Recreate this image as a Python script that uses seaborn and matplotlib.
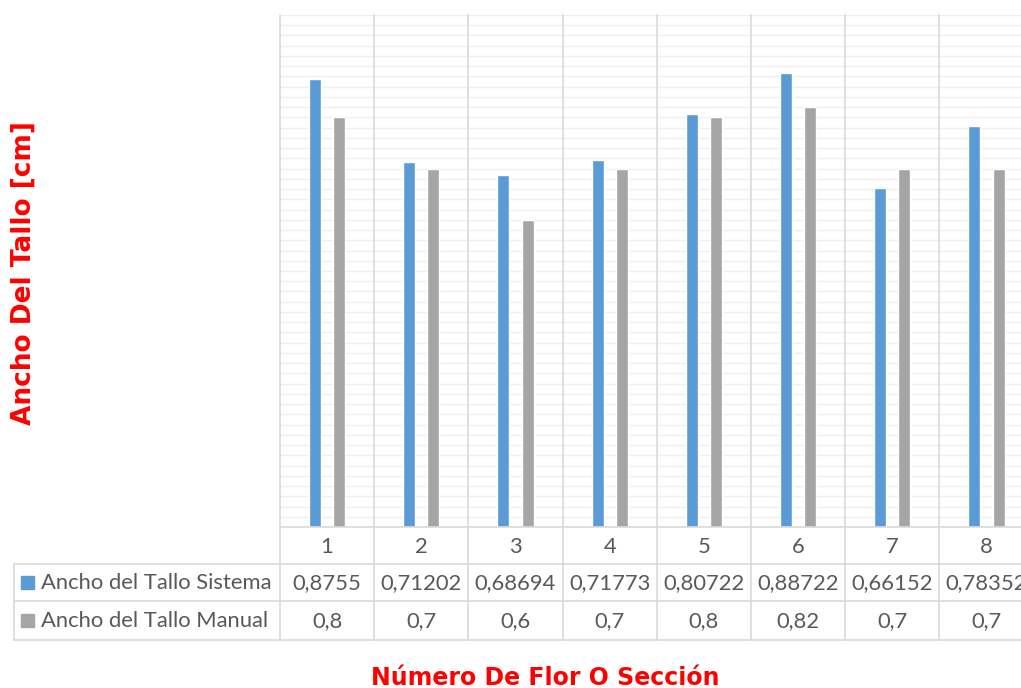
import numpy as np
import pandas as pd
import matplotlib
matplotlib.use("Agg")
import matplotlib.pyplot as plt
import matplotlib.transforms as mtransforms
import seaborn as sns

flores = ["1", "2", "3", "4", "5", "6", "7", "8"]
sistema = [0.8755, 0.71202, 0.68694, 0.71773, 0.80722, 0.88722, 0.66152, 0.78352]
manual = [0.8, 0.7, 0.6, 0.7, 0.8, 0.82, 0.7, 0.7]
series = ["Ancho del Tallo Sistema", "Ancho del Tallo Manual"]
colores = ["#5B9BD5", "#A5A5A5"]

df = pd.DataFrame({
    "flor": flores * 2,
    "serie": [series[0]] * len(flores) + [series[1]] * len(flores),
    "valor": sistema + manual,
})

sns.set_theme(style="white")
plt.rcParams["font.family"] = ["Lato", "DejaVu Sans"]

W, H = 1021, 688
fig = plt.figure(figsize=(W / 100, H / 100), dpi=100)
# ejes en píxeles: izquierda 280, arriba 15, abajo 527, ancho 8 categorías
left, top, bottom, cat_w = 280, 15, 527, 94.2
ax_h = bottom - top
ax = fig.add_axes([left / W, (H - bottom) / H, 8 * cat_w / W, ax_h / H])

sns.barplot(data=df, x="flor", y="valor", hue="serie", palette=colores,
            width=0.51, gap=0.5, ax=ax, legend=False, saturation=1)

ax.set_xlim(-0.5, 7.5)
ax.set_ylim(0, 1.0)
ax.set_yticks(np.arange(0, 1.001, 0.02))
ax.yaxis.grid(True, color="#EFEFEF", linewidth=1)
ax.set_axisbelow(True)
ax.tick_params(length=0, labelleft=False, labelbottom=False)
ax.set_xlabel("")
ax.set_ylabel("")
for s in ["top", "right", "left"]:
    ax.spines[s].set_visible(False)
ax.spines["bottom"].set_color("#D9D9D9")
ax.spines["bottom"].set_linewidth(1.2)

# tabla de datos bajo el eje
trans = mtransforms.blended_transform_factory(ax.transData, ax.transAxes)
def ya(py):
    return (bottom - py) / ax_h

line_kw = dict(color="#D9D9D9", linewidth=1.2, clip_on=False)
y_tab_end = ya(640)
for i in range(len(flores) + 1):
    x = i - 0.5
    ax.plot([x, x], [1.0, y_tab_end], transform=trans, **line_kw)

# bordes horizontales de la tabla
x0_ax = (14 - left) / (8 * cat_w)
for py in [564, 601, 640]:
    ax.plot([x0_ax, 1.05], [ya(py), ya(py)], transform=ax.transAxes, **line_kw)
ax.plot([x0_ax, x0_ax], [ya(564), ya(640)], transform=ax.transAxes, **line_kw)

txt_color = "#595959"
fs = 15.8
for i, f in enumerate(flores):
    ax.text(i, ya(547), f, transform=trans, ha="center", va="center",
            fontsize=fs, color=txt_color, clip_on=False)
    ax.text(i, ya(583), str(sistema[i]).replace(".", ","), transform=trans,
            ha="center", va="center", fontsize=fs, color=txt_color, clip_on=False)
    ax.text(i, ya(621), str(manual[i]).replace(".", ","), transform=trans,
            ha="center", va="center", fontsize=fs, color=txt_color, clip_on=False)

# leyenda dentro de la tabla
for serie, col, py in zip(series, colores, [582, 620]):
    fig.patches.append(plt.Rectangle((21 / W, (H - py - 6.5) / H), 13 / W, 13 / H,
                                     transform=fig.transFigure, color=col))
    fig.text(41 / W, (H - py - 1) / H, serie, ha="left", va="center",
             fontsize=fs, color=txt_color)

# títulos de los ejes
fig.text(24 / W, (H - 273) / H, "Ancho Del Tallo [cm]", rotation=90,
         ha="center", va="center", fontsize=19, fontweight="bold",
         color="#FF0000", family=["DejaVu Sans"])
fig.text(545 / W, (H - 678) / H, "Número De Flor O Sección",
         ha="center", va="center", fontsize=17, fontweight="bold",
         color="#FF0000", family=["DejaVu Sans"])

fig.savefig("out.png", dpi=100)
